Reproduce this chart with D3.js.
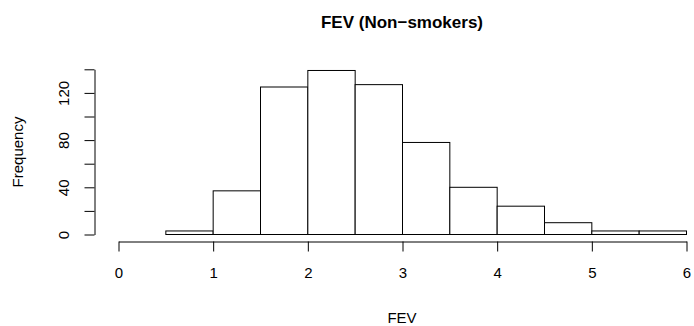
<!DOCTYPE html>
<html>
<head>
<meta charset="utf-8">
<script src="https://cdn.jsdelivr.net/npm/d3@7"></script>
<style>
  body { margin: 0; background: #fff; }
  text { font-family: "Liberation Sans", Arial, sans-serif; fill: #000; }
</style>
</head>
<body>
<div class="card"></div>
<script>
// histogram bins (FEV, non-smokers), width 0.5
var binStarts = [0.5, 1, 1.5, 2, 2.5, 3, 3.5, 4, 4.5, 5, 5.5];
var counts = [3, 37, 125, 139, 127, 78, 40, 24, 10, 3, 3];
var xTicks = [0, 1, 2, 3, 4, 5, 6];
var yTicks = [0, 20, 40, 60, 80, 100, 120, 140];
var binWidth = 0.5;

var width = 694, height = 326;

var svg = d3.select('.card')
  .append('svg')
  .attr('width', width)
  .attr('height', height)

var xScale = d3.scaleLinear().domain([0, 6]).range([118, 686]);
var yScale = d3.scaleLinear().domain([0, 140]).range([234, 68.8]);

// bars
svg.selectAll('.bar')
  .data(binStarts)
  .enter()
  .append('rect')
  .attr('class', 'bar')
  .attr('x', (d) => xScale(d) + 0.5)
  .attr('y', (d, i) => yScale(counts[i]) + 0.5)
  .attr('width', (d) => xScale(d + binWidth) - xScale(d))
  .attr('height', (d, i) => yScale(0) - yScale(counts[i]))
  .style('fill', '#fff')
  .style('stroke', '#000')
  .style('stroke-width', 1)

// x axis
var xAxis = d3.axisBottom(xScale).tickValues(xTicks).tickSize(10).tickSizeOuter(0)
  .tickPadding(16).tickFormat(d3.format('d'))
var gx = svg.append('g').attr('transform', 'translate(0.5, 241.5)').call(xAxis)

// y axis, R drops every other label
var yAxis = d3.axisLeft(yScale).tickValues(yTicks).tickSize(10).tickSizeOuter(0)
  .tickFormat((d) => d % 40 == 0 ? d : '')
var gy = svg.append('g').attr('transform', 'translate(94.5, 0.5)').call(yAxis)
gy.selectAll('.tick text')
  .attr('x', 0).attr('y', 0).attr('dy', 0)
  .attr('text-anchor', 'middle')
  .attr('transform', 'translate(-26, 0) rotate(-90)')

svg.selectAll('.domain, .tick line').attr('stroke', '#000')
svg.selectAll('.tick text').style('font-size', '15px').attr('fill', '#000')

// titles
svg.append('text')
  .attr('x', 402).attr('y', 28)
  .attr('text-anchor', 'middle')
  .style('font-size', '17px').style('font-weight', 'bold')
  .text('FEV (Non\u2212smokers)')

svg.append('text')
  .attr('x', 402).attr('y', 323)
  .attr('text-anchor', 'middle')
  .style('font-size', '15px')
  .text('FEV')

svg.append('text')
  .attr('transform', 'translate(23, 152) rotate(-90)')
  .attr('text-anchor', 'middle')
  .style('font-size', '15px')
  .text('Frequency')
</script>
</body>
</html>
